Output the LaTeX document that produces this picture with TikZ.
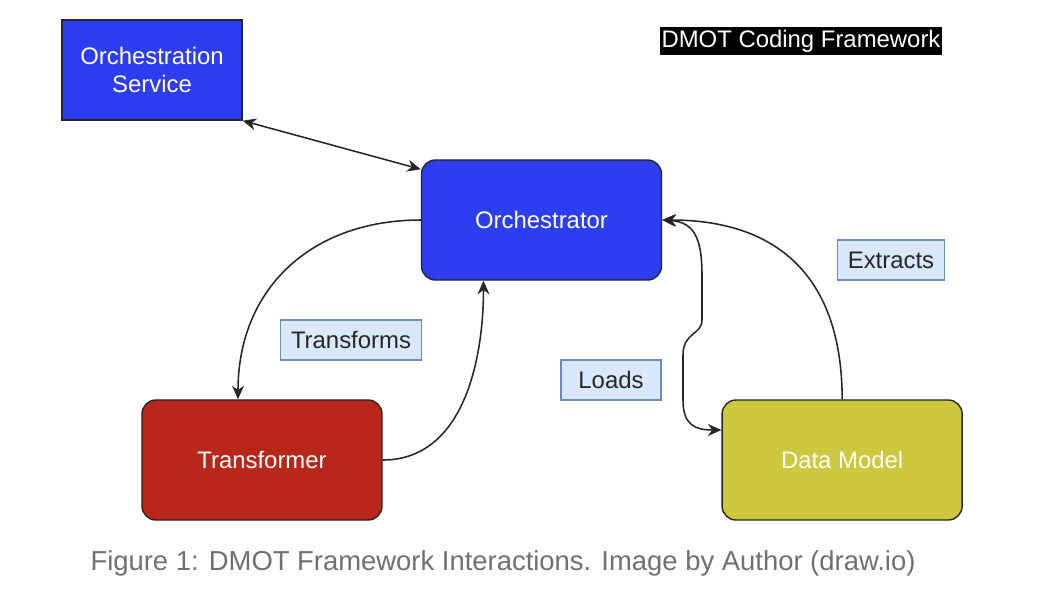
\documentclass[tikz,border=0pt]{standalone}
\usepackage{fontspec}
\setmainfont{Liberation Sans}
\usetikzlibrary{arrows.meta}

\begin{document}
\begin{tikzpicture}[x=0.025cm, y=-0.025cm, node distance=2cm]
    \definecolor{orch-color}{HTML}{2D3EF2}
    \definecolor{trans-color}{HTML}{B9261A}
    \definecolor{model-color}{HTML}{CEC83E}
    \definecolor{tag-color}{HTML}{DAE8FC}
    \definecolor{tag-border}{HTML}{6C8EBF}
    \definecolor{caption-color}{HTML}{707070}
    \tikzstyle{every node}=[font=\fontsize{17}{19.5}\selectfont]
    \tikzstyle{comp} = [rectangle, draw=black!85, line width=1pt, text=white, align=center, minimum width=6cm, minimum height=3cm, rounded corners=0.35cm]
    \tikzstyle{tag} = [rectangle, draw=tag-border, line width=0.8pt, fill=tag-color, text=black!85, minimum width=2.5cm, minimum height=1cm, inner xsep=0.26cm]
    \tikzstyle{link} = [-{Stealth[length=3.4mm, width=3mm]}, line width=1.1pt, black!85]
    \useasboundingbox (0,0) rectangle (1040,588);
        \node (orch) [comp, fill=orch-color] at (541.5,220) {Orchestrator};
        \node (service) [comp, fill=orch-color, sharp corners, minimum width=4.5cm, minimum height=2.5cm] at (152,70) {Orchestration\\Service};
        \node (trans) [comp, fill=trans-color] at (262,460) {Transformer};
        \node (model) [comp, fill=model-color, right of=trans, xshift=12.5cm] {Data Model};
        \node (transforms) [tag] at (351,340) {Transforms};
        \node (loads) [tag] at (611,380) {Loads};
        \node (extracts) [tag] at (891,260) {Extracts};
        \node (title) [fill=black, text=white, inner xsep=1pt, inner ysep=0pt, minimum height=0.7cm] at (801,41) {DMOT Coding Framework};
        \node (caption) [text=caption-color, font=\fontsize{19.5}{23}\selectfont] at (503,563) {Figure 1: DMOT Framework Interactions. Image by Author (draw.io)};
        % connectors
        \draw [link, {Stealth[length=3.4mm, width=3mm]}-{Stealth[length=3.4mm, width=3mm]}] (service.south east) -- ([yshift=-0.25cm]orch.north west);
        \draw [link] (orch.west) to[out=180, in=90, looseness=1.1] ([xshift=-0.6cm]trans.north);
        \draw [link] (trans.east) to[out=0, in=-90] ([xshift=-1.45cm]orch.south);
        \draw [link] (model.north) to[out=90, in=0, looseness=1.2] (orch.east);
        \draw [link, {Stealth[length=3.4mm, width=3mm]}-{Stealth[length=3.4mm, width=3mm]}] (orch.east) .. controls (695,222) and (702,240) .. (702,275) -- (702,320) .. controls (702,335) and (683,332) .. (683,355) -- (683,400) .. controls (683,425) and (695,430) .. ([yshift=0.75cm]model.west);
\end{tikzpicture}
\end{document}
